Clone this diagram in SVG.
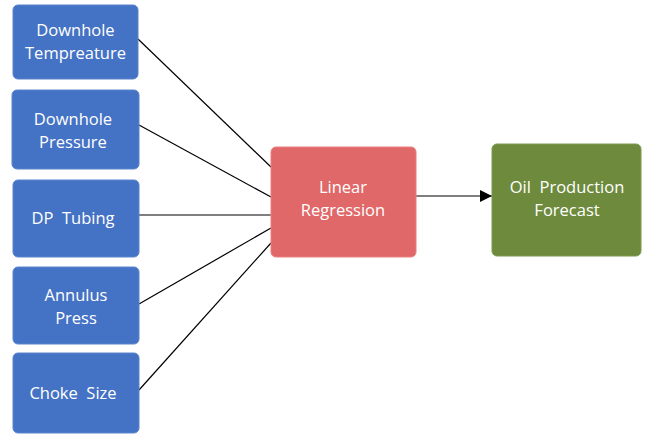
<svg xmlns="http://www.w3.org/2000/svg" width="645" height="435" viewBox="0 0 645 435">
<defs>
<style>
.b{fill:#4472C4;stroke:#5a84cc;stroke-width:1}
.t{font-family:"Open Sans","Liberation Sans",Arial,sans-serif;font-size:16.5px;font-weight:500;fill:#fff;text-anchor:middle;white-space:pre}
.c{stroke:#000;stroke-width:1.2;fill:none}
</style>
<marker id="ah" markerWidth="12" markerHeight="12" refX="12" refY="6" orient="auto" markerUnits="userSpaceOnUse"><path d="M0,0 L12,6 L0,12 z" fill="#000"/></marker>
</defs>
<rect width="645" height="435" fill="#fff"/>
<g id="connectors">
<line class="c" x1="138" y1="39" x2="271" y2="167"/>
<line class="c" x1="139" y1="125" x2="271" y2="197"/>
<line class="c" x1="139" y1="215" x2="271" y2="215"/>
<line class="c" x1="139" y1="304" x2="271" y2="228"/>
<line class="c" x1="139" y1="390" x2="271" y2="243"/>
<line class="c" x1="416" y1="196" x2="492" y2="196" marker-end="url(#ah)"/>
</g>
<g id="n1"><rect class="b" x="13" y="5" width="125" height="74" rx="5"/><text class="t" x="75.5" y="36">Downhole</text><text class="t" x="75.5" y="59">Tempreature</text></g>
<g id="n2"><rect class="b" x="12" y="90" width="127" height="79" rx="5"/><text class="t" x="73" y="125">Downhole</text><text class="t" x="73" y="148">Pressure</text></g>
<g id="n3"><rect class="b" x="13" y="180" width="126" height="77" rx="5"/><text class="t" x="73" y="224" xml:space="preserve">DP  Tubing</text></g>
<g id="n4"><rect class="b" x="13" y="267" width="126" height="77" rx="5"/><text class="t" x="76" y="301">Annulus</text><text class="t" x="76" y="324">Press</text></g>
<g id="n5"><rect class="b" x="13" y="353" width="126" height="80" rx="5"/><text class="t" x="73" y="399" xml:space="preserve">Choke  Size</text></g>
<g id="lr"><rect x="271" y="147" width="145" height="110" rx="5" fill="#E06868" stroke="#e88080"/><text class="t" x="343" y="193">Linear</text><text class="t" x="343" y="216">Regression</text></g>
<g id="oil"><rect x="492" y="144" width="149" height="112" rx="5" fill="#6E8B3D" stroke="#7d9a4c"/><text class="t" x="567" y="193" xml:space="preserve">Oil  Production</text><text class="t" x="567" y="216">Forecast</text></g>
</svg>
